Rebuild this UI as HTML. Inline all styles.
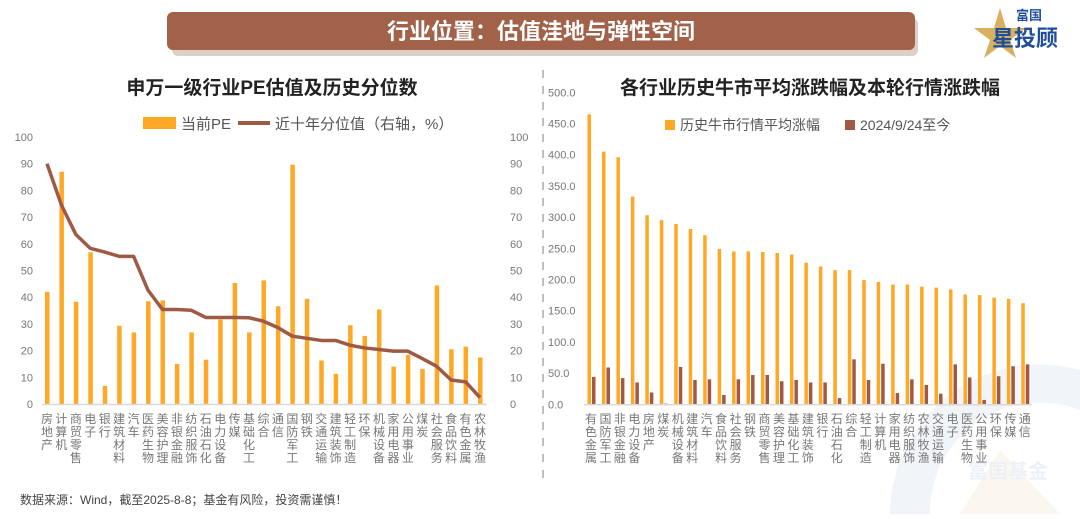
<!DOCTYPE html>
<html><head><meta charset="utf-8">
<style>
html,body{margin:0;padding:0;background:#fff;}
body{width:1080px;height:514px;overflow:hidden;position:relative;font-family:"Liberation Sans","Noto Sans CJK SC",sans-serif;}
svg text{font-family:"Liberation Sans","Noto Sans CJK SC",sans-serif;}
</style></head>
<body>
<svg id="root" width="1080" height="514" viewBox="0 0 1080 514" xmlns="http://www.w3.org/2000/svg">
  <g opacity="0.25">
    <path d="M890 514 A150 150 0 0 1 1080 370 L1080 410 A110 110 0 0 0 930 514 Z" fill="#c9d6ea"/>
    <path d="M960 514 L1000 450 L1060 514 Z" fill="#f3e3bd"/>
    <text x="968" y="478" font-size="20" font-weight="bold" fill="#b8c8e0">富国基金</text>
  </g>
  <g>
    <rect x="170" y="15" width="746" height="38" rx="6" fill="#c8b0a4" opacity="0.6" transform="translate(2,3)"/>
    <rect x="167" y="12" width="748" height="38" rx="6" fill="#a2624a"/>
    <text x="541" y="39" text-anchor="middle" font-size="22" font-weight="bold" fill="#fff">行业位置：估值洼地与弹性空间</text>
  </g>
  <g>
    <polygon points="1000,8 1006,28 1026,28 1010,40 1016,58 1000,46 984,58 990,40 974,28 994,28" fill="#d8b060"/>
    <text x="1016" y="20" font-size="13" font-weight="bold" fill="#1f4e9c">富国</text>
    <text x="992" y="46" font-size="22" font-weight="bold" fill="#1f4e9c">星投顾</text>
  </g>
  <line x1="543" y1="70" x2="543" y2="480" stroke="#aaa" stroke-width="1.5" stroke-dasharray="8,8"/>
  <text x="272" y="94" text-anchor="middle" font-size="19" font-weight="bold" fill="#222">申万一级行业PE估值及历史分位数</text>
  <g>
    <rect x="143" y="117" width="33" height="12" fill="#ffa826"/>
    <text x="181" y="129" font-size="15" fill="#555">当前PE</text>
    <line x1="238" y1="123" x2="270" y2="123" stroke="#9e5a44" stroke-width="4"/>
    <text x="275" y="129" font-size="15" fill="#555">近十年分位值（右轴，%）</text>
  </g>
  <text x="810" y="94" text-anchor="middle" font-size="19" font-weight="bold" fill="#222">各行业历史牛市平均涨跌幅及本轮行情涨跌幅</text>
  <g>
    <rect x="665" y="120" width="10" height="10" fill="#ffa826"/>
    <text x="680" y="130" font-size="14" fill="#555">历史牛市行情平均涨幅</text>
    <rect x="845" y="120" width="10" height="10" fill="#a05a44"/>
    <text x="860" y="130" font-size="14" fill="#555">2024/9/24至今</text>
  </g>
  <g id="left"></g>
  <g id="right"></g>
  <text x="20" y="504" font-size="12" fill="#444">数据来源：Wind，截至2025-8-8；基金有风险，投资需谨慎！</text>
</svg>
<script>
const leftCats=["房地产","计算机","商贸零售","电子","银行","建筑材料","汽车","医药生物","美容护理","非银金融","纺织服饰","石油石化","电力设备","传媒","基础化工","综合","通信","国防军工","钢铁","交通运输","建筑装饰","轻工制造","环保","机械设备","家用电器","公用事业","煤炭","社会服务","食品饮料","有色金属","农林牧渔"];
const leftPE=[42,87,38.3,56.8,6.8,29.3,26.8,38.5,38.8,15,26.8,16.6,31.6,45.3,26.8,46.3,36.6,89.6,39.4,16.3,11.3,29.5,25.5,35.4,14,18.4,13.1,44.4,20.5,21.5,17.4];
const leftPct=[90,74.5,63.5,58.3,56.9,55.3,55.3,42.6,35.4,35.4,35.1,32.4,32.4,32.4,32.3,31,28.6,25.4,24.6,23.8,23.8,22,21,20.4,19.8,19.8,17,14.1,9,8.3,2.4];
const leftTicks=[0,10,20,30,40,50,60,70,80,90,100];
const rightCats=["有色金属","国防军工","非银金融","电力设备","房地产","煤炭","机械设备","建筑材料","汽车","食品饮料","社会服务","钢铁","商贸零售","美容护理","基础化工","建筑装饰","银行","石油石化","综合","轻工制造","计算机","家用电器","纺织服饰","农林牧渔","交通运输","电子","医药生物","公用事业","环保","传媒","通信"];
const rightHist=[464.7,405,396,333,303,295,289,281,271,249,245,245,244,242.5,240,227,221,215,215,199,196,192,192,188.6,187,184,176,175,171,169,162];
const rightNow=[44,59,42,35,19,1,60,39,40,15,40,47,47,37,39,35,35,10,72,39,65,18,40,31,17,64,43,7,45,61,64];
const rightTicks=[0,50,100,150,200,250,300,350,400,450,500];
const NS="http://www.w3.org/2000/svg";
function mk(tag,attrs,parent,txt){const e=document.createElementNS(NS,tag);for(const k in attrs)e.setAttribute(k,attrs[k]);if(txt!==undefined)e.textContent=txt;parent.appendChild(e);return e;}
function vlabel(g,x,y,s){const t=mk('text',{x:x,y:y,'font-size':12,fill:'#777'},g);
  [...s].forEach((c,i)=>{mk('tspan',{x:x,y:y+i*13,'text-anchor':'middle'},t,c);});return t;}
(function(){
  const g=document.getElementById('left');
  const y0=404,y1=137,xL=42,xR=487;
  const ys=v=>y0-(v/100)*(y0-y1);
  const xs=i=>47+i*(480-47)/(leftCats.length-1);
  leftTicks.forEach(t=>{
    const a=mk('text',{x:33,y:ys(t)+4,'text-anchor':'end','font-size':11,fill:'#777'},g,t);
    
    
    const b=mk('text',{x:510,y:ys(t)+4,'text-anchor':'start','font-size':11,fill:'#777'},g,t);
    
    
  });
  leftPE.forEach((v,i)=>{
    const r=mk('rect',{x:xs(i)-2,y:ys(v),width:4.5,height:y0-ys(v),fill:'#ffa826'},g);
    
    
  });
  const ax=mk('line',{x1:xL,y1:y0+0.5,x2:xR,y2:y0+0.5,stroke:'#d9d9d9','stroke-width':1.5},g);
  
  
  const pts=leftPct.map((v,i)=>xs(i)+','+ys(v)).join(' ');
  const pl=mk('polyline',{points:pts,fill:'none',stroke:'#9e5a44','stroke-width':3.5,'stroke-linejoin':'round'},g);
  
  
  leftCats.forEach((c,i)=>{
    const t=vlabel(g,xs(i),423,c);
    
    
  });
})();
(function(){
  const g=document.getElementById('right');
  const y0=404.3,y1=92.3;
  const ys=v=>y0-(v/500)*(y0-y1);
  const xs=i=>589+i*14.46;
  rightTicks.forEach(t=>{
    const a=mk('text',{x:548,y:ys(t)+4,'font-size':11,fill:'#777'},g,t.toFixed(1));
    
    
  });
  rightHist.forEach((v,i)=>{
    const r=mk('rect',{x:xs(i)-1.5,y:ys(v),width:3.5,height:y0-ys(v),fill:'#ffa826'},g);
    
    
  });
  rightNow.forEach((v,i)=>{
    const r=mk('rect',{x:xs(i)+3,y:ys(v),width:3.5,height:y0-ys(v),fill:'#a05a44'},g);
    
    
  });
  const ax=mk('line',{x1:584,y1:y0+0.5,x2:1032,y2:y0+0.5,stroke:'#d9d9d9','stroke-width':1.5},g);
  
  
  rightCats.forEach((c,i)=>{
    const t=vlabel(g,xs(i)+2,423,c);
    
    
  });
})();
</script>
</body></html>
